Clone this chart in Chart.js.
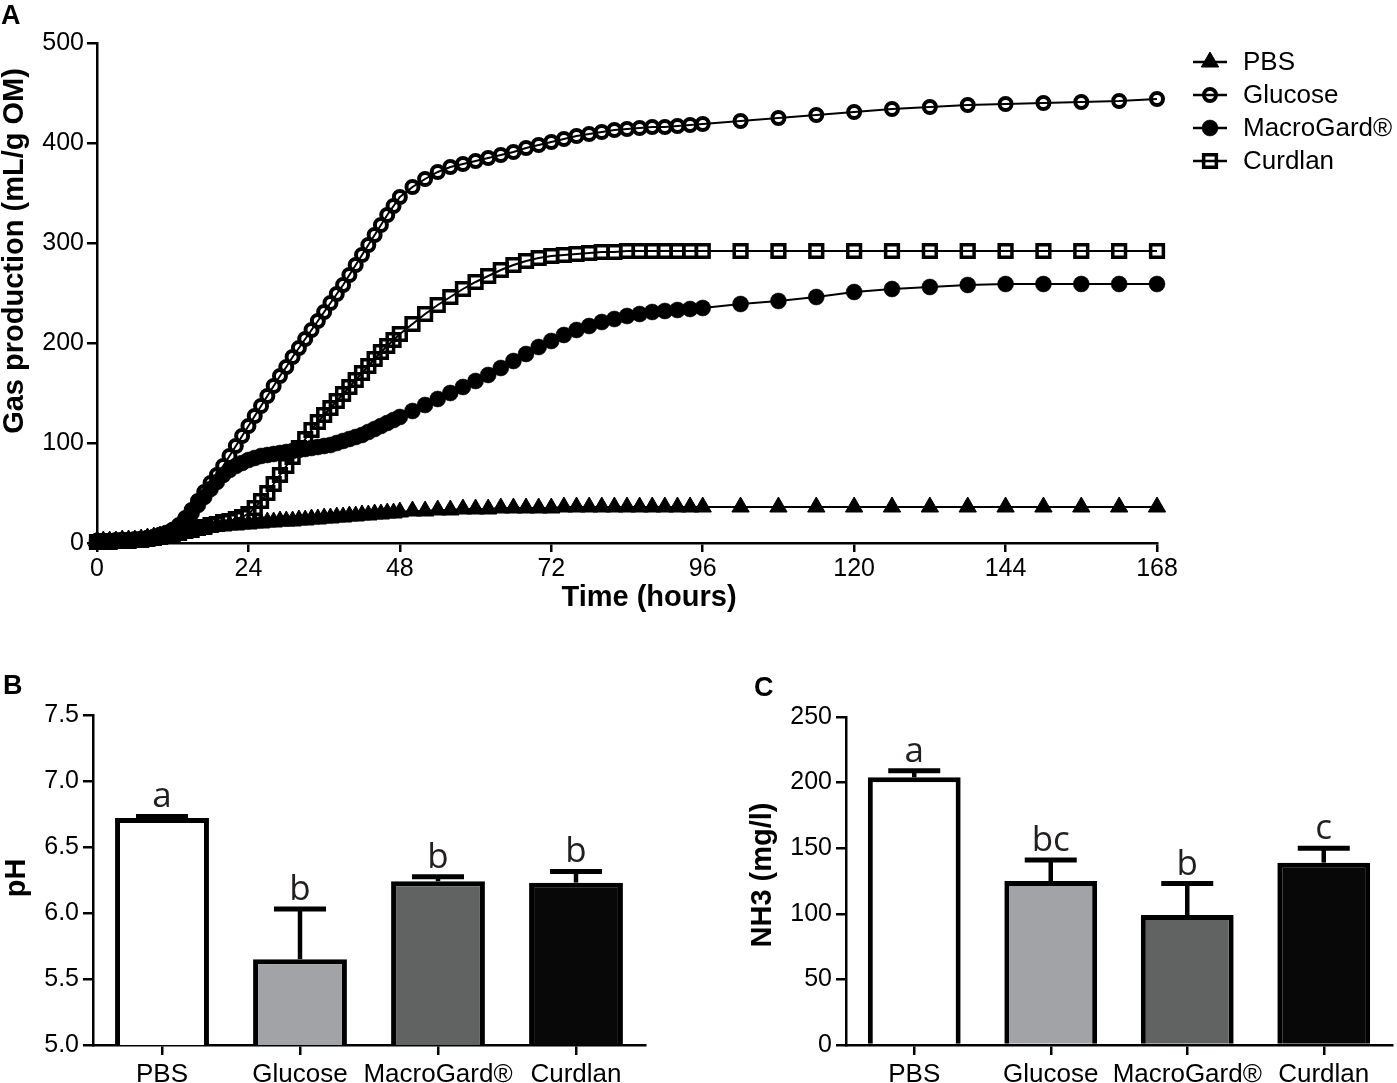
<!DOCTYPE html>
<html>
<head>
<meta charset="utf-8">
<script src="https://cdn.jsdelivr.net/npm/chart.js@4.4.1/dist/chart.umd.min.js"></script>
<style>
  body { margin: 0; background: #fff; width: 1397px; height: 1083px; overflow: hidden; position: relative; }
  .panel { position: absolute; }
  .tag { position: absolute; font: bold 27px "Liberation Sans", Arial, sans-serif; line-height: 27px; color: #000; }
</style>
</head>
<body>
<div class="panel" style="left:0;top:0"><canvas id="gasChart" width="1397" height="625"></canvas></div>
<div class="panel" style="left:0;top:670px"><canvas id="phChart" width="700" height="413"></canvas></div>
<div class="panel" style="left:700px;top:670px"><canvas id="nh3Chart" width="697" height="413"></canvas></div>
<div class="tag" style="left:1px;top:2px">A</div>
<div class="tag" style="left:3px;top:672px">B</div>
<div class="tag" style="left:754px;top:674px">C</div>

<script>
// sampling times (h)
const hours = [
    0, 1, 2, 3, 4, 5, 6, 7, 8, 9, 10, 11, 12, 13, 14, 15, 16, 17, 18, 19, 20, 21, 22, 23, 24,
    25, 26, 27, 28, 29, 30, 31, 32, 33, 34, 35, 36, 37, 38, 39, 40, 41, 42, 43, 44, 45, 46, 47, 48,
    50, 52, 54, 56, 58, 60, 62, 64, 66, 68, 70, 72, 74, 76, 78, 80, 82, 84, 86, 88, 90, 92, 94, 96,
    102, 108, 114, 120, 126, 132, 138, 144, 150, 156, 162, 168
];

// gas production (mL/g OM)
const pbsGas = [
    2, 2, 2, 2, 3, 3, 3, 4, 5, 6, 7, 8, 10, 11, 12, 13, 14, 15, 16, 17, 17, 18, 18, 19, 19,
    20, 20, 21, 21, 22, 22, 22, 23, 23, 24, 24, 25, 25, 26, 26, 27, 27, 28, 28, 29, 29, 30, 30, 31,
    32, 32, 33, 33, 34, 34, 34, 35, 35, 35, 35, 35, 36, 36, 36, 36, 36, 36, 36, 36, 36, 36, 36, 36,
    36, 36, 36, 36, 36, 36, 36, 36, 36, 36, 36, 36
];
const glucoseGas = [
    2, 2, 2, 3, 3, 3, 4, 4, 5, 6, 8, 10, 13, 18, 25, 33, 42, 51, 60, 68, 77, 87, 97, 107, 117,
    127, 137, 147, 157, 167, 176, 186, 195, 204, 213, 222, 231, 240, 249, 258, 268, 278, 288, 298, 308, 318, 328, 337, 346,
    356, 364, 371, 376, 379, 382, 385, 388, 391, 395, 398, 401, 404, 407, 409, 411, 413, 414, 415, 416, 416, 417, 418, 419,
    422, 425, 428, 431, 434, 436, 438, 439, 440, 441, 442, 444
];
const macroGas = [
    2, 2, 2, 2, 3, 3, 3, 4, 5, 6, 8, 10, 13, 17, 23, 30, 38, 46, 54, 61, 68, 73, 77, 80, 83,
    85, 87, 88, 89, 90, 91, 92, 93, 94, 95, 96, 97, 98, 100, 102, 104, 106, 108, 111, 114, 117, 120, 123, 126,
    132, 138, 144, 150, 156, 162, 168, 175, 182, 189, 196, 202, 208, 213, 217, 221, 224, 227, 229, 231, 232, 233, 234, 235,
    239, 242, 246, 251, 254, 256, 258, 259, 259, 259, 259, 259
];
const curdlanGas = [
    1, 1, 1, 2, 2, 2, 3, 3, 4, 5, 6, 7, 9, 10, 12, 13, 15, 16, 18, 19, 21, 22, 24, 26, 29,
    35, 42, 50, 59, 68, 77, 86, 95, 104, 113, 121, 128, 135, 142, 149, 156, 163, 170, 177, 184, 191, 197, 203, 209,
    219, 229, 238, 246, 254, 261, 267, 273, 278, 282, 285, 287, 288, 289, 290, 291, 291, 292, 292, 292, 292, 292, 292, 292,
    292, 292, 292, 292, 292, 292, 292, 292, 292, 292, 292, 292
];

// end-point measurements
const groups = ['PBS', 'Glucose', 'MacroGard®', 'Curdlan'];
const phMean = [6.72, 5.65, 6.24, 6.23];
const phErr = [0.012, 0.38, 0.035, 0.085];
const phLetters = ['a', 'b', 'b', 'b'];
const nh3Mean = [204, 125, 99, 139];
const nh3Err = [5, 16, 24, 11];
const nh3Letters = ['a', 'bc', 'b', 'c'];

const barFills = ['#ffffff', '#a2a3a6', '#616362', '#080808'];
const FONT = '"Liberation Sans", Arial, sans-serif';

function points(values) {
    return hours.map((h, i) => ({ x: h, y: values[i] }));
}

function drawMarker(ctx, ds, x, y) {
    ctx.save();
    ctx.fillStyle = ds.pointBackgroundColor;
    ctx.strokeStyle = ds.pointBorderColor;
    ctx.lineWidth = ds.pointBorderWidth;
    Chart.helpers.drawPoint(ctx, {
        pointStyle: ds.pointStyle, radius: ds.pointRadius, rotation: 0, borderWidth: ds.pointBorderWidth
    }, x, y);
    ctx.restore();
}

// legend drawn as line + marker, like the original figure
const gasLegend = {
    id: 'gasLegend',
    afterDraw(chart) {
        const ctx = chart.ctx;
        chart.data.datasets.forEach((ds, i) => {
            const y = 62 + i * 33;
            ctx.save();
            ctx.strokeStyle = '#000';
            ctx.lineWidth = 2.5;
            ctx.beginPath();
            ctx.moveTo(1193, y);
            ctx.lineTo(1227, y);
            ctx.stroke();
            drawMarker(ctx, ds, 1210, y);
            ctx.fillStyle = '#000';
            ctx.font = '26px ' + FONT;
            ctx.textBaseline = 'middle';
            ctx.fillText(ds.label, 1243, y + 1);
            ctx.restore();
        });
    }
};

// axis titles placed where the figure has them
function axisTitles(list) {
    return {
        id: 'axisTitles',
        afterDraw(chart) {
            const ctx = chart.ctx;
            list.forEach(t => {
                ctx.save();
                ctx.translate(t.x, t.y);
                if (t.rotate) ctx.rotate(-Math.PI / 2);
                ctx.font = 'bold 29px ' + FONT;
                ctx.fillStyle = '#000';
                ctx.textAlign = 'center';
                ctx.textBaseline = 'middle';
                ctx.fillText(t.text, 0, 0);
                ctx.restore();
            });
        }
    };
}

// upper error bars and significance letters
function barExtras(means, errs, letters) {
    return {
        id: 'barExtras',
        afterDatasetsDraw(chart) {
            const ctx = chart.ctx;
            const yScale = chart.scales.y;
            const bars = chart.getDatasetMeta(0).data;
            bars.forEach((bar, i) => {
                const yTop = yScale.getPixelForValue(means[i] + errs[i]);
                ctx.save();
                ctx.strokeStyle = '#000';
                ctx.lineWidth = 4.5;
                ctx.beginPath();
                ctx.moveTo(bar.x, bar.y);
                ctx.lineTo(bar.x, yTop);
                ctx.stroke();
                ctx.lineWidth = 5;
                ctx.beginPath();
                ctx.moveTo(bar.x - 26, yTop);
                ctx.lineTo(bar.x + 26, yTop);
                ctx.stroke();
                ctx.fillStyle = '#231f20';
                ctx.font = '35px "Open Sans", sans-serif';
                ctx.textAlign = 'center';
                ctx.textBaseline = 'alphabetic';
                ctx.fillText(letters[i], bar.x, yTop - 9);
                ctx.restore();
            });
        }
    };
}

function axisStyle(tickLen) {
    return {
        grid: { drawOnChartArea: false, drawTicks: true, tickLength: tickLen, color: '#000', lineWidth: 2.5, offset: false },
        border: { color: '#000', width: 2.5 }
    };
}

const lineBase = { borderColor: '#000', borderWidth: 2, tension: 0, clip: false, pointHoverRadius: 7 };

new Chart(document.getElementById('gasChart').getContext('2d'), {
    type: 'line',
    data: {
        datasets: [
            Object.assign({ label: 'PBS', data: points(pbsGas), pointStyle: 'triangle', pointRadius: 10,
                pointBackgroundColor: '#000', pointBorderColor: '#000', pointBorderWidth: 1 }, lineBase),
            Object.assign({ label: 'Glucose', data: points(glucoseGas), pointStyle: 'circle', pointRadius: 6,
                pointBackgroundColor: 'rgba(0,0,0,0)', pointBorderColor: '#000', pointBorderWidth: 4 }, lineBase),
            Object.assign({ label: 'MacroGard®', data: points(macroGas), pointStyle: 'circle', pointRadius: 8,
                pointBackgroundColor: '#000', pointBorderColor: '#000', pointBorderWidth: 0.5 }, lineBase),
            Object.assign({ label: 'Curdlan', data: points(curdlanGas), pointStyle: 'rect', pointRadius: 9,
                pointBackgroundColor: 'rgba(0,0,0,0)', pointBorderColor: '#000', pointBorderWidth: 3.5 }, lineBase)
        ]
    },
    options: {
        responsive: false,
        animation: false,
        layout: { padding: { left: 0, top: 43, right: 240, bottom: 0 } },
        plugins: { legend: { display: false }, tooltip: { enabled: false } },
        scales: {
            x: Object.assign({
                type: 'linear', min: 0, max: 168,
                ticks: { stepSize: 24, autoSkip: false, color: '#000', padding: 2, font: { family: FONT, size: 25 } },
                afterFit: s => { s.height = 82; }
            }, axisStyle(9)),
            y: Object.assign({
                min: 0, max: 500,
                ticks: { stepSize: 100, color: '#000', padding: 3, font: { family: FONT, size: 25 } },
                afterFit: s => { s.width = 97; }
            }, axisStyle(10))
        }
    },
    plugins: [gasLegend, axisTitles([
        { text: 'Gas production (mL/g OM)', x: 15, y: 251, rotate: true },
        { text: 'Time (hours)', x: 649, y: 598 }
    ])]
});

function barChart(id, means, errs, letters, yOpts, pad, title) {
    new Chart(document.getElementById(id).getContext('2d'), {
        type: 'bar',
        data: {
            labels: groups,
            datasets: [{
                data: means,
                backgroundColor: barFills,
                borderColor: '#000',
                borderWidth: 5,
                categoryPercentage: 1,
                barPercentage: 0.68
            }]
        },
        options: {
            responsive: false,
            animation: false,
            layout: { padding: pad },
            plugins: { legend: { display: false }, tooltip: { enabled: false } },
            scales: {
                x: Object.assign({
                    ticks: { color: '#000', padding: 4, autoSkip: false, maxRotation: 0, minRotation: 0,
                        font: { family: FONT, size: 26 } },
                    afterFit: s => { s.height = 38; }
                }, axisStyle(10)),
                y: Object.assign(yOpts, axisStyle(10))
            }
        },
        plugins: [barExtras(means, errs, letters), axisTitles([title])]
    });
}

barChart('phChart', phMean, phErr, phLetters, {
    min: 5, max: 7.5,
    ticks: { stepSize: 0.5, color: '#000', padding: 4, font: { family: FONT, size: 25 }, callback: v => v.toFixed(1) },
    afterFit: s => { s.width = 93; }
}, { left: 0, top: 45, right: 55, bottom: 0 }, { text: 'pH', x: 17, y: 208, rotate: true });

barChart('nh3Chart', nh3Mean, nh3Err, nh3Letters, {
    min: 0, max: 250,
    ticks: { stepSize: 50, color: '#000', padding: 4, font: { family: FONT, size: 25 } },
    afterFit: s => { s.width = 146; }
}, { left: 0, top: 47, right: 5, bottom: 0 }, { text: 'NH3 (mg/l)', x: 63, y: 205, rotate: true });
</script>
</body>
</html>
